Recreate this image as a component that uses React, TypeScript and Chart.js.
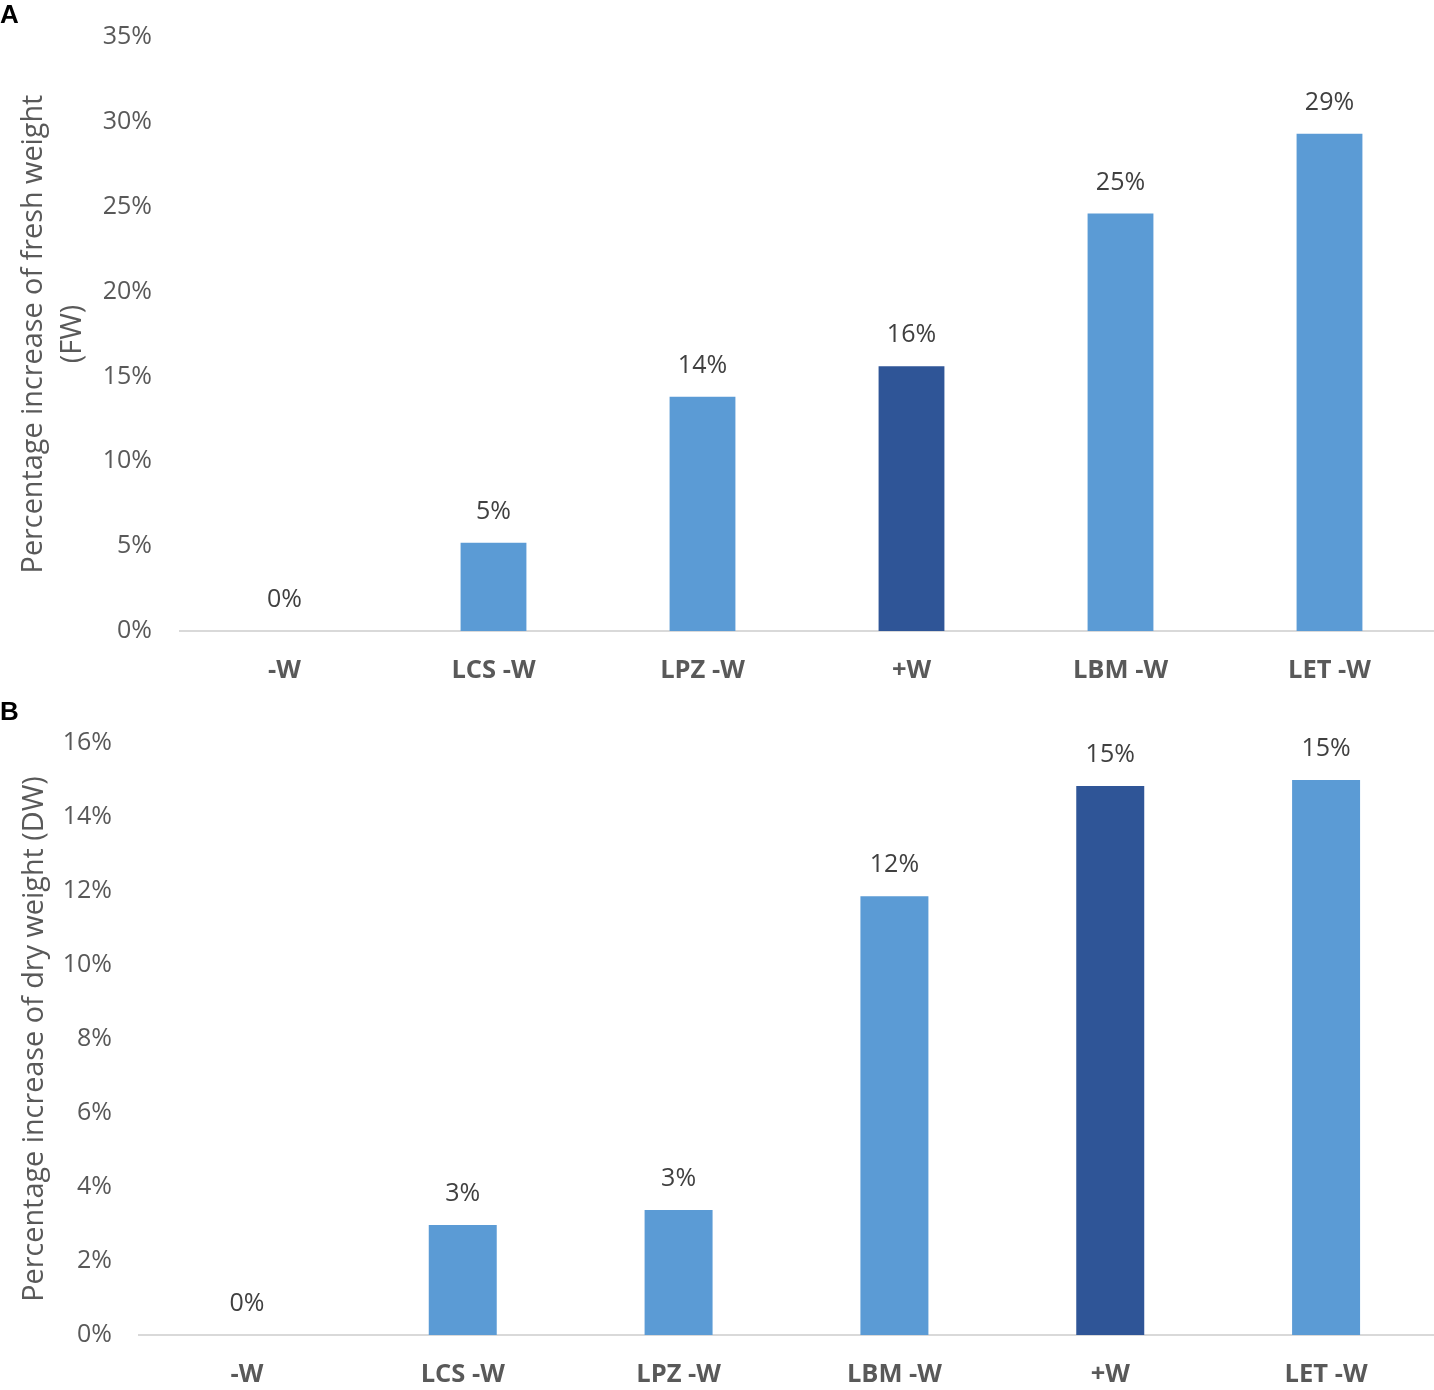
import { useRef, useEffect } from "react";
import { Chart, registerables } from "chart.js";
import type { Plugin } from "chart.js";

Chart.register(...registerables);

// Panel A - fresh weight
const fwLabels = ["-W", "LCS -W", "LPZ -W", "+W", "LBM -W", "LET -W"];
const fwValues = [0, 5.2, 13.8, 15.6, 24.6, 29.3];
const fwColors = ["#5B9BD5", "#5B9BD5", "#5B9BD5", "#2F5597", "#5B9BD5", "#5B9BD5"];
const fwTitle = ["Percentage increase of fresh weight", "(FW)"];

// Panel B - dry weight
const dwLabels = ["-W", "LCS -W", "LPZ -W", "LBM -W", "+W", "LET -W"];
const dwValues = [0, 2.97, 3.38, 11.86, 14.84, 15.0];
const dwColors = ["#5B9BD5", "#5B9BD5", "#5B9BD5", "#5B9BD5", "#2F5597", "#5B9BD5"];
const dwTitle = "Percentage increase of dry weight (DW)";

const FONT = "'Open Sans', sans-serif";
const AXIS_GREY = "#595959";

const valueLabels: Plugin<"bar"> = {
    id: "valueLabels",
    afterDatasetsDraw(chart) {
        const ctx = chart.ctx;
        const meta = chart.getDatasetMeta(0);
        const values = chart.data.datasets[0].data as number[];
        ctx.save();
        ctx.font = `25px ${FONT}`;
        ctx.fillStyle = "#404040";
        ctx.textAlign = "center";
        ctx.textBaseline = "middle";
        meta.data.forEach((bar, i) => {
            ctx.fillText(Math.round(values[i]) + "%", bar.x, bar.y - 31);
        });
        ctx.restore();
    }
};

interface PanelProps {
    labels: string[];
    values: number[];
    colors: string[];
    title: string | string[];
    max: number;
    step: number;
    topPad: number;
    axisWidth: number;
    tickPad: number;
    xAxisHeight: number;
    titlePad: number;
}

function BarPanel(p: PanelProps) {
    const canvasRef = useRef<HTMLCanvasElement>(null);

    useEffect(() => {
        const canvas = canvasRef.current;
        if (!canvas) return;

        const chart = new Chart(canvas, {
            type: "bar",
            data: {
                labels: p.labels,
                datasets: [
                    {
                        data: p.values,
                        backgroundColor: p.colors,
                        barPercentage: 0.315,
                        categoryPercentage: 1
                    }
                ]
            },
            options: {
                responsive: false,
                animation: false,
                layout: { padding: { top: p.topPad, left: 0, right: 0, bottom: 0 } },
                plugins: {
                    legend: { display: false },
                    tooltip: { enabled: false }
                },
                scales: {
                    x: {
                        grid: { display: false, drawTicks: false },
                        border: { display: true, color: "#D9D9D9", width: 2 },
                        ticks: {
                            color: AXIS_GREY,
                            font: { family: FONT, size: 25.5, weight: "bold" },
                            padding: 24
                        },
                        afterFit: scale => {
                            scale.height = p.xAxisHeight;
                        }
                    },
                    y: {
                        min: 0,
                        max: p.max,
                        grid: { display: false, drawTicks: false },
                        border: { display: false },
                        ticks: {
                            stepSize: p.step,
                            color: AXIS_GREY,
                            font: { family: FONT, size: 25 },
                            padding: p.tickPad,
                            callback: v => v + "%"
                        },
                        title: {
                            display: true,
                            text: p.title,
                            color: AXIS_GREY,
                            font: { family: FONT, size: 28.8, lineHeight: 1.36 },
                            padding: { top: p.titlePad, bottom: 0 }
                        },
                        afterFit: scale => {
                            scale.width = p.axisWidth;
                            // keep the plot area top fixed by the layout padding only
                            scale.paddingTop = 0;
                            scale.paddingBottom = 0;
                        }
                    }
                }
            },
            plugins: [valueLabels]
        });

        return () => chart.destroy();
    }, []);

    return <canvas ref={canvasRef} width={1434} height={695} style={{ display: "block" }} />;
}

const letterStyle: React.CSSProperties = {
    position: "absolute",
    left: 0,
    fontFamily: "'Liberation Sans', Arial, sans-serif",
    fontWeight: "bold",
    fontSize: 26,
    lineHeight: "26px",
    color: "#000"
};

export default function App() {
    return (
        <div style={{ position: "absolute", left: 0, top: 0, width: 1434, height: 1390, background: "#fff" }}>
            <BarPanel
                labels={fwLabels}
                values={fwValues}
                colors={fwColors}
                title={fwTitle}
                max={35}
                step={5}
                topPad={37}
                axisWidth={180}
                tickPad={28}
                xAxisHeight={64}
                titlePad={14}
            />
            <BarPanel
                labels={dwLabels}
                values={dwValues}
                colors={dwColors}
                title={dwTitle}
                max={16}
                step={2}
                topPad={48}
                axisWidth={139}
                tickPad={27}
                xAxisHeight={55}
                titlePad={15}
            />
            <div style={{ ...letterStyle, top: 1 }}>A</div>
            <div style={{ ...letterStyle, top: 698 }}>B</div>
        </div>
    );
}
